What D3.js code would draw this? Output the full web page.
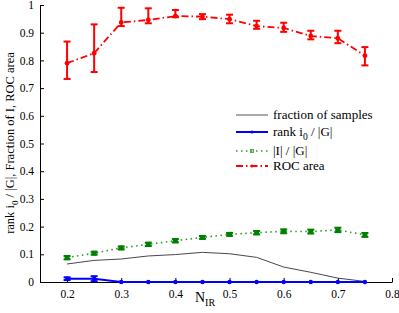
<!DOCTYPE html>
<html>
<head>
<meta charset="utf-8">
<script src="https://cdn.jsdelivr.net/npm/d3@7"></script>
<style>
  body { margin: 0; background: #fff; }
  svg text { font-family: "Liberation Serif", "DejaVu Serif", serif; fill: #000; }
  .axis path, .axis line { stroke: #000; }
  .axis text { font-size: 11.5px; }
</style>
</head>
<body>
<div id="chart"></div>
<script>
'use strict';
// data
var nIR = [0.2, 0.25, 0.3, 0.35, 0.4, 0.45, 0.5, 0.55, 0.6, 0.65, 0.7, 0.75];
var fractionSamples = [0.065, 0.078, 0.083, 0.094, 0.099, 0.107, 0.102, 0.089, 0.054, 0.035, 0.014, 0.002];
var rankVals = [0.012, 0.012, 0, 0, 0, 0, 0, 0, 0, 0, 0, 0];
var rankErr = [0.005, 0.009, 0, 0, 0, 0, 0, 0, 0, 0, 0, 0];
var fracIVals = [0.088, 0.104, 0.123, 0.136, 0.149, 0.161, 0.172, 0.178, 0.183, 0.182, 0.188, 0.17];
var fracIErr = [0.006, 0.005, 0.005, 0.006, 0.006, 0.005, 0.005, 0.006, 0.007, 0.007, 0.008, 0.007];
var rocVals = [0.79, 0.826, 0.937, 0.946, 0.96, 0.958, 0.949, 0.924, 0.917, 0.888, 0.88, 0.817];
var rocLow = [0.733, 0.758, 0.924, 0.934, 0.956, 0.949, 0.934, 0.914, 0.903, 0.876, 0.862, 0.782];
var rocHigh = [0.868, 0.93, 0.99, 0.988, 0.982, 0.967, 0.965, 0.943, 0.936, 0.907, 0.907, 0.848];
var xTicks = [0.2, 0.3, 0.4, 0.5, 0.6, 0.7, 0.8];
var yTicks = [0, 0.1, 0.2, 0.3, 0.4, 0.5, 0.6, 0.7, 0.8, 0.9, 1];

var width = 399, height = 313;
var svg = d3.select('#chart').append('svg')
  .attr('width', width)
  .attr('height', height);

var x = d3.scaleLinear().domain([0.15, 0.8]).range([40, 392]);
var y = d3.scaleLinear().domain([0, 1]).range([282, 5]);

// axes, ticks pointing inward
svg.append('g').attr('class', 'axis')
  .attr('transform', 'translate(0,' + y(0) + ')')
  .call(d3.axisBottom(x).tickValues(xTicks).tickSizeInner(-4).tickSizeOuter(0).tickPadding(8)
    .tickFormat(d3.format('.1f')))
  .attr('font-family', null);
svg.append('g').attr('class', 'axis')
  .attr('transform', 'translate(' + x(0.15) + ',0)')
  .call(d3.axisLeft(y).tickValues(yTicks).tickSizeInner(-4).tickSizeOuter(0).tickPadding(6)
    .tickFormat(function(d) { return d === 0 ? '0' : d === 1 ? '1' : d3.format('.1f')(d); }))
  .attr('font-family', null);

// axis labels
var xl = svg.append('text')
  .attr('x', 205).attr('y', 302)
  .attr('text-anchor', 'middle')
  .style('font-size', '14px');
xl.append('tspan').text('N');
xl.append('tspan').attr('dy', 4).style('font-size', '10px').text('IR');

var yl = svg.append('text')
  .attr('transform', 'translate(14,143) rotate(-90)')
  .attr('text-anchor', 'middle')
  .style('font-size', '12.5px');
yl.append('tspan').text('rank i');
yl.append('tspan').attr('dy', 4).style('font-size', '9px').text('0');
yl.append('tspan').attr('dy', -4).text(' / |G|, Fraction of I, ROC area');

var idx = d3.range(nIR.length);
var lineOf = function(vals) {
  return d3.line().x(function(i) { return x(nIR[i]); }).y(function(i) { return y(vals[i]); });
};

// error bars
var drawErr = function(lo, hi, color, capW, sw) {
  var g = svg.append('g').attr('stroke', color).attr('stroke-width', sw);
  idx.forEach(function(i) {
    if (hi[i] - lo[i] <= 0) return;
    var cx = x(nIR[i]);
    g.append('line').attr('x1', cx).attr('x2', cx).attr('y1', y(lo[i])).attr('y2', y(hi[i]));
    g.append('line').attr('x1', cx - capW).attr('x2', cx + capW).attr('y1', y(lo[i])).attr('y2', y(lo[i]));
    g.append('line').attr('x1', cx - capW).attr('x2', cx + capW).attr('y1', y(hi[i])).attr('y2', y(hi[i]));
  });
};

// fraction of samples
svg.append('path').datum(idx)
  .attr('d', lineOf(fractionSamples))
  .attr('fill', 'none').attr('stroke', '#333').attr('stroke-width', 0.9);

// |I| / |G|
drawErr(fracIVals.map(function(v, i) { return v - fracIErr[i]; }),
  fracIVals.map(function(v, i) { return v + fracIErr[i]; }), '#008000', 3.5, 2);
svg.append('path').datum(idx)
  .attr('d', lineOf(fracIVals))
  .attr('fill', 'none').attr('stroke', '#2a9a2a').attr('stroke-width', 1.6)
  .attr('stroke-dasharray', '1.5,3.5');
svg.append('g').selectAll('rect').data(idx).enter().append('rect')
  .attr('x', function(i) { return x(nIR[i]) - 2.5; })
  .attr('y', function(i) { return y(fracIVals[i]) - 2.5; })
  .attr('width', 5).attr('height', 5)
  .attr('fill', '#008000');

// rank i0 / |G|
drawErr(rankVals.map(function(v, i) { return v - rankErr[i]; }),
  rankVals.map(function(v, i) { return v + rankErr[i]; }), '#0000ff', 3.5, 2);
svg.append('path').datum(idx)
  .attr('d', lineOf(rankVals))
  .attr('fill', 'none').attr('stroke', '#0000ff').attr('stroke-width', 2);
svg.append('g').selectAll('circle').data(idx).enter().append('circle')
  .attr('cx', function(i) { return x(nIR[i]); })
  .attr('cy', function(i) { return y(rankVals[i]); })
  .attr('r', 2.2).attr('fill', '#0000ff');

// ROC area
drawErr(rocLow, rocHigh, '#ff0000', 3.5, 2);
svg.append('path').datum(idx)
  .attr('d', lineOf(rocVals))
  .attr('fill', 'none').attr('stroke', '#ff0000').attr('stroke-width', 1.8)
  .attr('stroke-dasharray', '7,3,1.5,3');
svg.append('g').selectAll('circle').data(idx).enter().append('circle')
  .attr('cx', function(i) { return x(nIR[i]); })
  .attr('cy', function(i) { return y(rocVals[i]); })
  .attr('r', 2.4).attr('fill', '#ff0000');

// legend
var legend = svg.append('g').attr('transform', 'translate(236,0)');
var legItems = [
  { label: 'fraction of samples', color: '#555', dash: null, sw: 1, marker: null, y: 115 },
  { label: 'rank i', sub: '0', rest: ' / |G|', color: '#0000ff', dash: null, sw: 2, marker: 'circle', y: 132 },
  { label: '|I| / |G|', color: '#2a9a2a', dash: '1.5,3.5', sw: 1.4, marker: 'square', y: 151 },
  { label: 'ROC area', color: '#ff0000', dash: '7,3,1.5,3', sw: 1.8, marker: 'circle', y: 166 }
];
legItems.forEach(function(d) {
  legend.append('line')
    .attr('x1', 0).attr('x2', 32).attr('y1', d.y).attr('y2', d.y)
    .attr('stroke', d.color).attr('stroke-width', d.sw)
    .attr('stroke-dasharray', d.dash);
  if (d.marker === 'circle') {
    legend.append('circle').attr('cx', 16).attr('cy', d.y).attr('r', 1.6).attr('fill', d.color);
  } else if (d.marker === 'square') {
    legend.append('rect').attr('x', 14.5).attr('y', d.y - 1.5).attr('width', 3).attr('height', 3)
      .attr('fill', 'none').attr('stroke', d.color).attr('stroke-width', 0.8);
  }
  var t = legend.append('text')
    .attr('x', 37).attr('y', d.y + 4)
    .style('font-size', '13px');
  t.append('tspan').text(d.label);
  if (d.sub) {
    t.append('tspan').attr('dy', 4).style('font-size', '9.5px').text(d.sub);
    t.append('tspan').attr('dy', -4).text(d.rest);
  }
});
</script>
</body>
</html>
